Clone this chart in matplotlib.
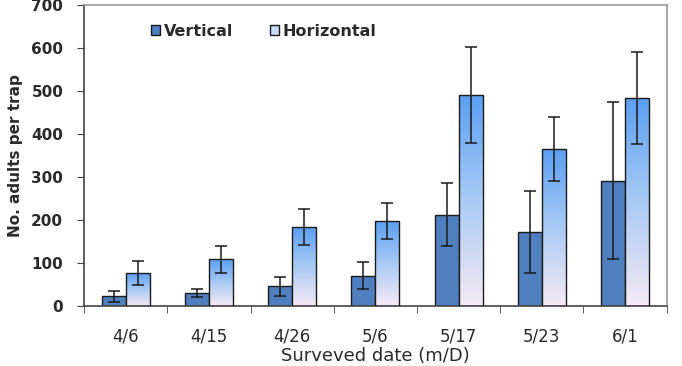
import numpy as np
import matplotlib
matplotlib.use("Agg")
from matplotlib import pyplot as plt
from matplotlib.colors import LinearSegmentedColormap
from matplotlib.patches import Patch

dates = ["4/6", "4/15", "4/26", "5/6", "5/17", "5/23", "6/1"]
vertical = [22, 29, 45, 70, 212, 171, 291]
vertical_err = [13, 9, 22, 32, 74, 96, 183]
horizontal = [76, 108, 183, 197, 490, 364, 483]
horizontal_err = [27, 31, 42, 43, 111, 75, 107]

fig = plt.figure(figsize=(6.82, 3.66), dpi=100)
ax = fig.add_axes([0.1232, 0.1648, 0.8544, 0.8222])

x = np.arange(len(dates))
w = 0.288

# 垂直型：纯色
ax.bar(x - w / 2, vertical, w, color="#4f7fbe", edgecolor="#1a1a1a", linewidth=1.0,
       yerr=vertical_err, error_kw=dict(ecolor="#1a1a1a", elinewidth=1.1, capsize=4, capthick=1.1),
       zorder=2)

# 水平型：渐变填充
grad = LinearSegmentedColormap.from_list("g", ["#f6eaf5", "#a9cbf5", "#5b9ff2"])
bars = ax.bar(x + w / 2, horizontal, w, facecolor="none", edgecolor="#1a1a1a", linewidth=1.0,
              yerr=horizontal_err, error_kw=dict(ecolor="#1a1a1a", elinewidth=1.1, capsize=4, capthick=1.1),
              zorder=3)
col = np.linspace(0, 1, 256).reshape(-1, 1)
for b in bars:
    x0, y0 = b.get_x(), b.get_y()
    im = ax.imshow(col, cmap=grad, origin="lower", aspect="auto", zorder=2.5,
                   extent=(x0, x0 + b.get_width(), y0, y0 + b.get_height()))
    im.set_clip_path(b)

ax.set_xlim(-0.5, len(dates) - 0.5)
ax.set_ylim(0, 700)
ax.set_yticks(range(0, 701, 100))
ax.set_xticks(x)
ax.set_xticklabels(dates, fontsize=12, color="#2a2a2a")
ax.set_xticks(np.arange(-0.5, len(dates), 1), minor=True)
ax.tick_params(axis="x", which="major", length=0, pad=15.5)
ax.tick_params(axis="x", which="minor", length=5, direction="out", color="#444444")
ax.tick_params(axis="y", length=5, direction="out", color="#444444", labelsize=11,
               labelcolor="#2a2a2a", pad=10)
for lab in ax.get_yticklabels():
    lab.set_fontweight("bold")

for s in ["top", "right"]:
    ax.spines[s].set_color("#999999")
    ax.spines[s].set_linewidth(1.2)
for s in ["left", "bottom"]:
    ax.spines[s].set_color("#444444")
    ax.spines[s].set_linewidth(1.2)

ax.set_ylabel("No. adults per trap", fontsize=11, fontweight="bold", color="#2a2a2a", labelpad=6)
ax.set_xlabel("Surveved date (m/D)", fontsize=13, color="#2a2a2a", labelpad=1)

handles = [Patch(facecolor="#4f7fbe", edgecolor="#1a1a1a", label="Vertical"),
           Patch(facecolor="#c9dcf5", edgecolor="#1a1a1a", label="Horizontal")]
leg = ax.legend(handles=handles, ncol=2, loc="upper left", bbox_to_anchor=(0.09, 0.985),
                frameon=False, handlelength=0.6, handleheight=0.6, handletextpad=0.2,
                columnspacing=2.3, prop=dict(size=11.5, weight="bold"))
for t in leg.get_texts():
    t.set_color("#2a2a2a")

fig.savefig("out.png", dpi=100)
